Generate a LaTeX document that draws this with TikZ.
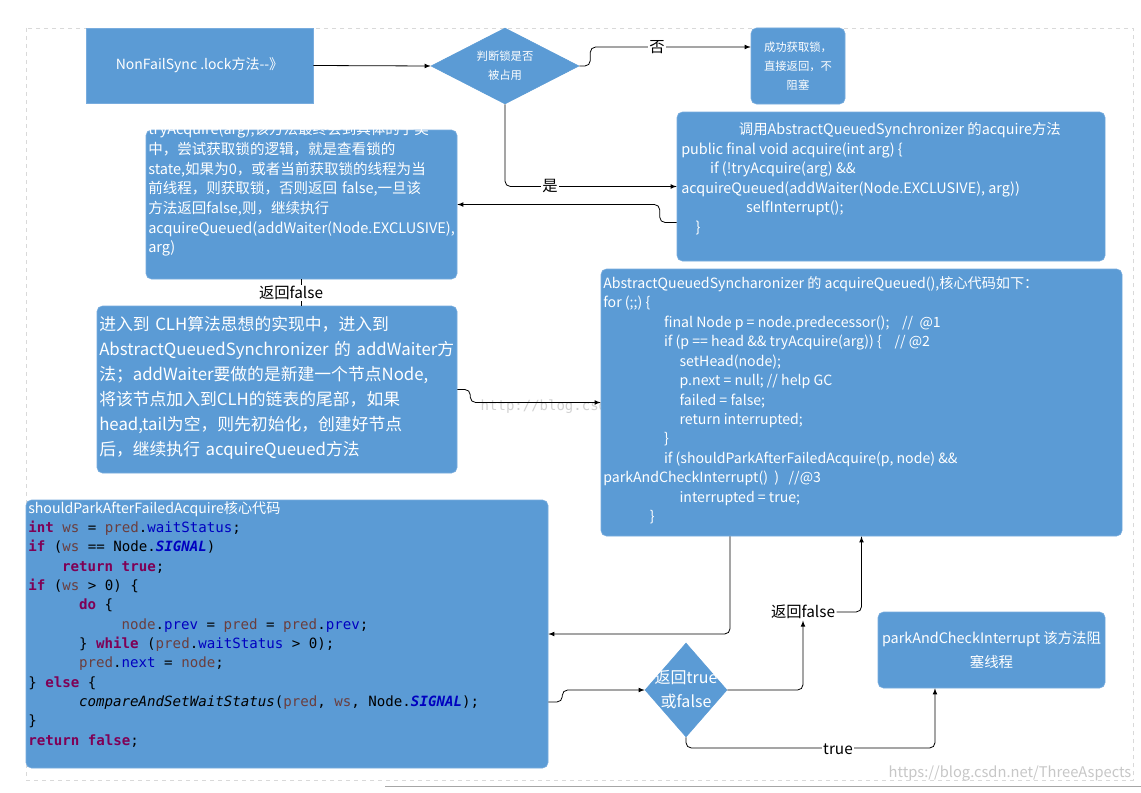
\documentclass[tikz,border=0pt]{standalone}
\usepackage{fontspec}
\setmainfont{Noto Sans CJK SC}
\setmonofont{DejaVu Sans Mono}
\XeTeXlinebreaklocale "zh"
\XeTeXlinebreakskip=0pt plus 1pt
\hyphenpenalty=10000
\usetikzlibrary{shapes.geometric,arrows}
\definecolor{boxblue}{RGB}{91,155,213}
\definecolor{boxedge}{RGB}{120,172,222}
\definecolor{kwcol}{RGB}{127,0,85}
\definecolor{fdcol}{RGB}{0,0,192}
\definecolor{vrcol}{RGB}{106,62,62}
\newcommand\kw[1]{\textcolor{kwcol}{\bfseries #1}}
\newcommand\fd[1]{\textcolor{fdcol}{#1}}
\newcommand\vr[1]{\textcolor{vrcol}{#1}}
\newcommand\cst[1]{\textcolor{fdcol}{\bfseries\itshape #1}}
\newcommand\ind[1]{\hspace*{#1em}}
\tikzset{
  box/.style={rectangle, rounded corners=4pt, fill=boxblue, draw=boxedge, inner sep=0pt},
  sqbox/.style={rectangle, fill=boxblue, draw=boxedge, inner sep=0pt},
  dia/.style={diamond, fill=boxblue, draw=boxblue, inner sep=0pt},
  txt/.style={text=white, inner sep=0pt, anchor=north west, align=left},
  lbl/.style={fill=white, inner sep=1pt, font=\fontsize{11.5}{13}\selectfont},
  arr/.style={-latex, black, line width=0.6pt, rounded corners=4pt},
}
\begin{document}
\begin{tikzpicture}[x=0.75pt,y=0.75pt,yscale=-1,xscale=1]
\useasboundingbox (0,0) rectangle (1141,792);
\fill[white] (0,0) rectangle (1141,792);
%Frame
\draw[dashed, black!15] (26,28) rectangle (1133,780);
\draw[black!35] (385,786) -- (1141,786);
\draw (476,407) node[anchor=west, text=black!18, font=\ttfamily\fontsize{10.5}{12}\selectfont] (wm1) {http://blog.csdn.net/};

%Shapes
\node[sqbox, minimum width=170.25pt, minimum height=56.25pt] (lock) at (199.5,65.5) {};
\node[dia, minimum width=111pt, minimum height=57pt] (occ) at (505,66) {};
\node[box, minimum width=70.5pt, minimum height=57pt] (ok) at (798,66) {};
\node[box, minimum width=321pt, minimum height=111.75pt] (acq) at (891,186.5) {};
\node[box, minimum width=233.25pt, minimum height=111.75pt] (try) at (301.5,204.5) {};
\node[box, minimum width=270pt, minimum height=125.25pt] (clh) at (277,389.5) {};
\node[box, minimum width=390.75pt, minimum height=200.25pt] (queued) at (861.5,402.5) {};
\node[box, minimum width=391.5pt, minimum height=201pt] (park) at (287,634) {};
\node[dia, minimum width=61.5pt, minimum height=70.5pt] (ret) at (686,690) {};
\node[box, minimum width=170.25pt, minimum height=57pt] (block) at (991.5,650) {};

% Text Node
\draw (lock.center) node[text=white, font=\fontsize{10.5}{12}\selectfont] {NonFailSync .lock方法-{}-》};
\draw (occ.center) node[text=white, align=center, font=\fontsize{8.5}{14}\selectfont] {判断锁是否\\被占用};
\draw (ok.center) node[text=white, align=center, font=\fontsize{8.5}{14}\selectfont] {成功获取锁，\\直接返回，不\\阻塞};
\draw (681,122) node[txt, font=\fontsize{10.8}{14.7}\selectfont] {\ind{4}调用AbstractQueuedSynchronizer 的acquire方法\\
public final void acquire(int arg) \{\\
\ind{2}if (!tryAcquire(arg) \&\&\\
acquireQueued(addWaiter(Node.EXCLUSIVE), arg))\\
\ind{4.5}selfInterrupt();\\
\ind{1}\}};
\draw (148,122) node[txt, text width=230pt, font=\fontsize{10.9}{14.8}\selectfont] {tryAcquire(arg),该方法最终会到具体的子类\\中，尝试获取锁的逻辑，就是查看锁的\\state,如果为0，或者当前获取锁的线程为当\\前线程，则获取锁，否则返回 false,一旦该\\方法返回false,则，继续执行\\acquireQueued(addWaiter(Node.EXCLUSIVE),\\arg)};
\draw (99,316) node[txt, text width=268pt, font=\fontsize{12.6}{18.7}\selectfont] {进入到 CLH算法思想的实现中，进入到\\AbstractQueuedSynchronizer 的 addWaiter方\\法；addWaiter要做的是新建一个节点Node,\\将该节点加入到CLH的链表的尾部，如果\\head,tail为空，则先初始化，创建好节点\\后，继续执行 acquireQueued方法};
\draw (603,276) node[txt, font=\fontsize{10.6}{14.6}\selectfont] {AbstractQueuedSyncharonizer 的 acquireQueued(),核心代码如下：\\
for (;;) \{\\
\ind{4.3}final Node p = node.predecessor();\ \ \ \ //\ \ @1\\
\ind{4.3}if (p == head \&\& tryAcquire(arg)) \{\ \ \ \ // @2\\
\ind{5.4}setHead(node);\\
\ind{5.4}p.next = null; // help GC\\
\ind{5.4}failed = false;\\
\ind{5.4}return interrupted;\\
\ind{4.3}\}\\
\ind{4.3}if (shouldParkAfterFailedAcquire(p, node) \&\&\\
parkAndCheckInterrupt()\ \ )\ \ \ //@3\\
\ind{5.4}interrupted = true;\\
\ind{3.3}\}};
\draw (28,501) node[txt, text=black, font=\ttfamily\fontsize{10.6}{14.5}\selectfont] {\textcolor{white}{\rmfamily\fontsize{10.6}{14.5}\selectfont shouldParkAfterFailedAcquire核心代码}\\
\kw{int} \vr{ws} = \vr{pred}.\fd{waitStatus};\\
\kw{if} (\vr{ws} == Node.\cst{SIGNAL})\\
\ind{2.4}\kw{return} \kw{true};\\
\kw{if} (\vr{ws} > 0) \{\\
\ind{3.6}\kw{do} \{\\
\ind{6.6}\vr{node}.\fd{prev} = \vr{pred} = \vr{pred}.\fd{prev};\\
\ind{3.6}\} \kw{while} (\vr{pred}.\fd{waitStatus} > 0);\\
\ind{3.6}\vr{pred}.\fd{next} = \vr{node};\\
\} \kw{else} \{\\
\ind{3.6}{\itshape compareAndSetWaitStatus}(\vr{pred}, \vr{ws}, Node.\cst{SIGNAL});\\
\}\\
\kw{return} \kw{false};};
\draw (ret.center) node[text=white, align=center, font=\fontsize{12}{18}\selectfont] {返回true\\或false};
\draw (block.center) node[text=white, align=center, font=\fontsize{10.8}{18}\selectfont] {parkAndCheckInterrupt 该方法阻\\塞线程};

%Connectors
\draw[arr] (lock.east) -- (occ.west);
\draw[arr] (occ.east) -- ++(11,0) |- ([yshift=-14.25pt]ok.west);
\draw (657,47) node[lbl] (no) {否};
\draw[arr] (occ.south) |- (acq.west);
\draw (550,186) node[lbl] (yes) {是};
\draw[arr] ([yshift=27pt]acq.west) -- ++(-17,0) |- (try.east);
\draw[line width=0.6pt] (try.south) -- (try.south |- clh.north);
\draw (291,293) node[lbl] (rf1) {返回false};
\draw[arr] (clh.east) -- ++(13,0) |- (queued.west);
\draw[arr] ([xshift=-98.6pt]queued.south) |- (park.east);
\draw[arr] ([yshift=51pt]park.east) -- ++(14,0) |- (ret.west);
\draw (803,612) node[lbl] (rf2) {返回false};
\draw[arr] (ret.east) -| (rf2.south);
\draw[arr] (rf2.east) -| (queued.south);
\draw[arr] (ret.south) |- (935,748) -- ([xshift=-42.4pt]block.south);
\draw (838,749) node[lbl] (tr) {true};
\draw (1010,773) node[text=black!22, font=\fontsize{11}{12}\selectfont] (wm2) {https://blog.csdn.net/ThreeAspects};
\end{tikzpicture}
\end{document}
